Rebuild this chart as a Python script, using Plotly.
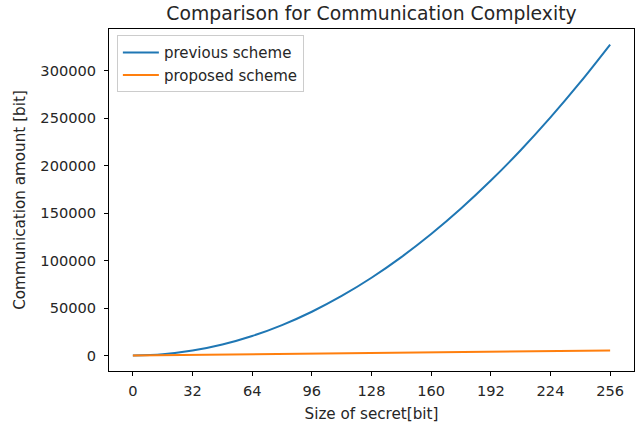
import plotly.graph_objects as go

secret_bits = [0, 16, 32, 48, 64, 80, 96, 112, 128, 144, 160, 176, 192, 208, 224, 240, 256]
previous_scheme = [0, 1280, 5120, 11520, 20480, 32000, 46080, 62720, 81920, 103680,
                   128000, 154880, 184320, 216320, 250880, 288000, 327680]
proposed_scheme = [0, 330, 660, 1000, 1330, 1660, 2000, 2330, 2660, 3000,
                   3330, 3660, 4000, 4330, 4660, 5000, 5330]
x_ticks = [0, 32, 64, 96, 128, 160, 192, 224, 256]
y_ticks = [0, 50000, 100000, 150000, 200000, 250000, 300000]

font = "DejaVu Sans"
txt = "#262626"
fig = go.Figure()
fig.add_trace(go.Scatter(x=secret_bits, y=previous_scheme, mode="lines", name="previous scheme",
                         line=dict(color="#1f77b4", width=2, shape="spline")))
fig.add_trace(go.Scatter(x=secret_bits, y=proposed_scheme, mode="lines", name="proposed scheme",
                         line=dict(color="#ff7f0e", width=2)))

fig.update_layout(
    width=638, height=425,
    margin=dict(l=109, r=4, t=29, b=54, autoexpand=False),
    paper_bgcolor="white", plot_bgcolor="white",
    font=dict(family=font, size=14.6, color=txt),
    title=dict(text="Comparison for Communication Complexity", x=0.5, xanchor="center",
               xref="paper", y=1 - 13 / 425, yref="container", yanchor="middle",
               font=dict(size=18.8, color=txt)),
    showlegend=True,
    legend=dict(x=0.015, y=0.982, xanchor="left", yanchor="top", bgcolor="rgba(255,255,255,0.8)",
                bordercolor="#cccccc", borderwidth=1, font=dict(size=15),
                tracegroupgap=0, itemwidth=36),
    xaxis=dict(range=[-12.8, 268.8], tickvals=x_ticks, ticktext=[str(v) for v in x_ticks],
               automargin=False, ticklabelstandoff=2,
               showgrid=False, zeroline=False, showline=True, linecolor="#000000", linewidth=1,
               mirror=True, ticks="outside", ticklen=4, tickcolor="#000000", tickfont=dict(size=14.6),
               title=dict(text="Size of secret[bit]", font=dict(size=15.2), standoff=10)),
    yaxis=dict(range=[-16384, 344064], tickvals=y_ticks, ticktext=[str(v) for v in y_ticks],
               automargin=False, ticklabelstandoff=5,
               showgrid=False, zeroline=False, showline=True, linecolor="#000000", linewidth=1,
               mirror=True, ticks="outside", ticklen=4, tickcolor="#000000", tickfont=dict(size=14.6),
               title=dict(text="Communication amount [bit]", font=dict(size=15.2), standoff=11)),
)
fig.write_html("out.html", post_script="document.body.style.margin='0';",
               config={"displayModeBar": False})
